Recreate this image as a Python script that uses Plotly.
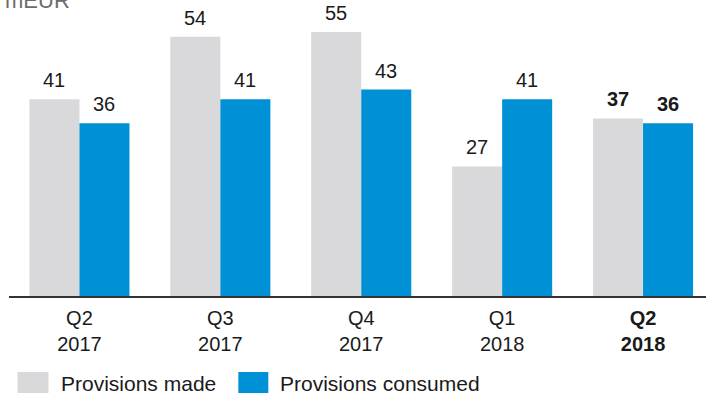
import plotly.graph_objects as go

categories = ["Q2<br>2017", "Q3<br>2017", "Q4<br>2017", "Q1<br>2018", "<b>Q2<br>2018</b>"]
provisions_made = [41, 54, 55, 27, 37]
provisions_consumed = [36, 41, 43, 41, 36]
bold_flags = [False, False, False, False, True]
series_names = ["Provisions made", "Provisions consumed"]
colors = ["#d9d9db", "#0090d6"]
unit_label = "mEUR"

x_idx = list(range(len(categories)))

fig = go.Figure()
fig.add_trace(go.Bar(x=x_idx, y=provisions_made, name=series_names[0],
                     marker=dict(color=colors[0], line=dict(width=0))))
fig.add_trace(go.Bar(x=x_idx, y=provisions_consumed, name=series_names[1],
                     marker=dict(color=colors[1], line=dict(width=0))))

annotations = []
for i, (a, b, bold) in enumerate(zip(provisions_made, provisions_consumed, bold_flags)):
    for val, shift in ((a, -25), (b, 25)):
        txt = f"<b>{val}</b>" if bold else str(val)
        annotations.append(dict(x=i, y=val, xref="x", yref="y", text=txt,
                                showarrow=False, xshift=shift, yshift=6,
                                yanchor="bottom", xanchor="center",
                                font=dict(size=20, color="#1a1a1a")))

annotations.append(dict(x=0, y=1, xref="paper", yref="paper", text=unit_label,
                        showarrow=False, xanchor="left", yanchor="middle",
                        xshift=-6, yshift=0,
                        font=dict(size=22, color="#6d6d6d")))

# legend (manual)
shapes = []
legend_items = [(17, 48, series_names[0], colors[0], 59), (238, 268, series_names[1], colors[1], 278)]
W, H = 706, 394
for x0, x1, name, col, tx in legend_items:
    shapes.append(dict(type="rect", xref="paper", yref="paper",
                       x0=(x0 - 8.5) / 697.5, x1=(x1 - 8.5) / 697.5,
                       y0=(296 - 393) / 296, y1=(296 - 372) / 296,
                       fillcolor=col, line=dict(width=0)))
    annotations.append(dict(x=(tx - 8.5) / 697.5, y=(296 - 383) / 296,
                            xref="paper", yref="paper", text=name, showarrow=False,
                            xanchor="left", yanchor="middle",
                            font=dict(size=21, color="#1a1a1a")))

fig.update_layout(
    width=W, height=H,
    margin=dict(l=8.5, r=0, t=0, b=98, pad=0),
    barmode="group", bargap=0.29, bargroupgap=0,
    plot_bgcolor="white", paper_bgcolor="white",
    showlegend=False,
    font=dict(family="Arial, Liberation Sans, sans-serif", size=20, color="#1a1a1a"),
    xaxis=dict(range=[-0.5, -0.5 + 697.5 / 141], tickmode="array", tickvals=x_idx,
               ticktext=categories, showline=True, linecolor="#333333", linewidth=2,
               ticks="", showgrid=False, zeroline=False, fixedrange=True,
               ticklabelstandoff=3,
               tickfont=dict(size=20, color="#1a1a1a")),
    yaxis=dict(range=[0, 296 / 4.8], visible=False, showgrid=False, zeroline=False),
    annotations=annotations,
    shapes=shapes,
)

fig.write_html("out.html")
